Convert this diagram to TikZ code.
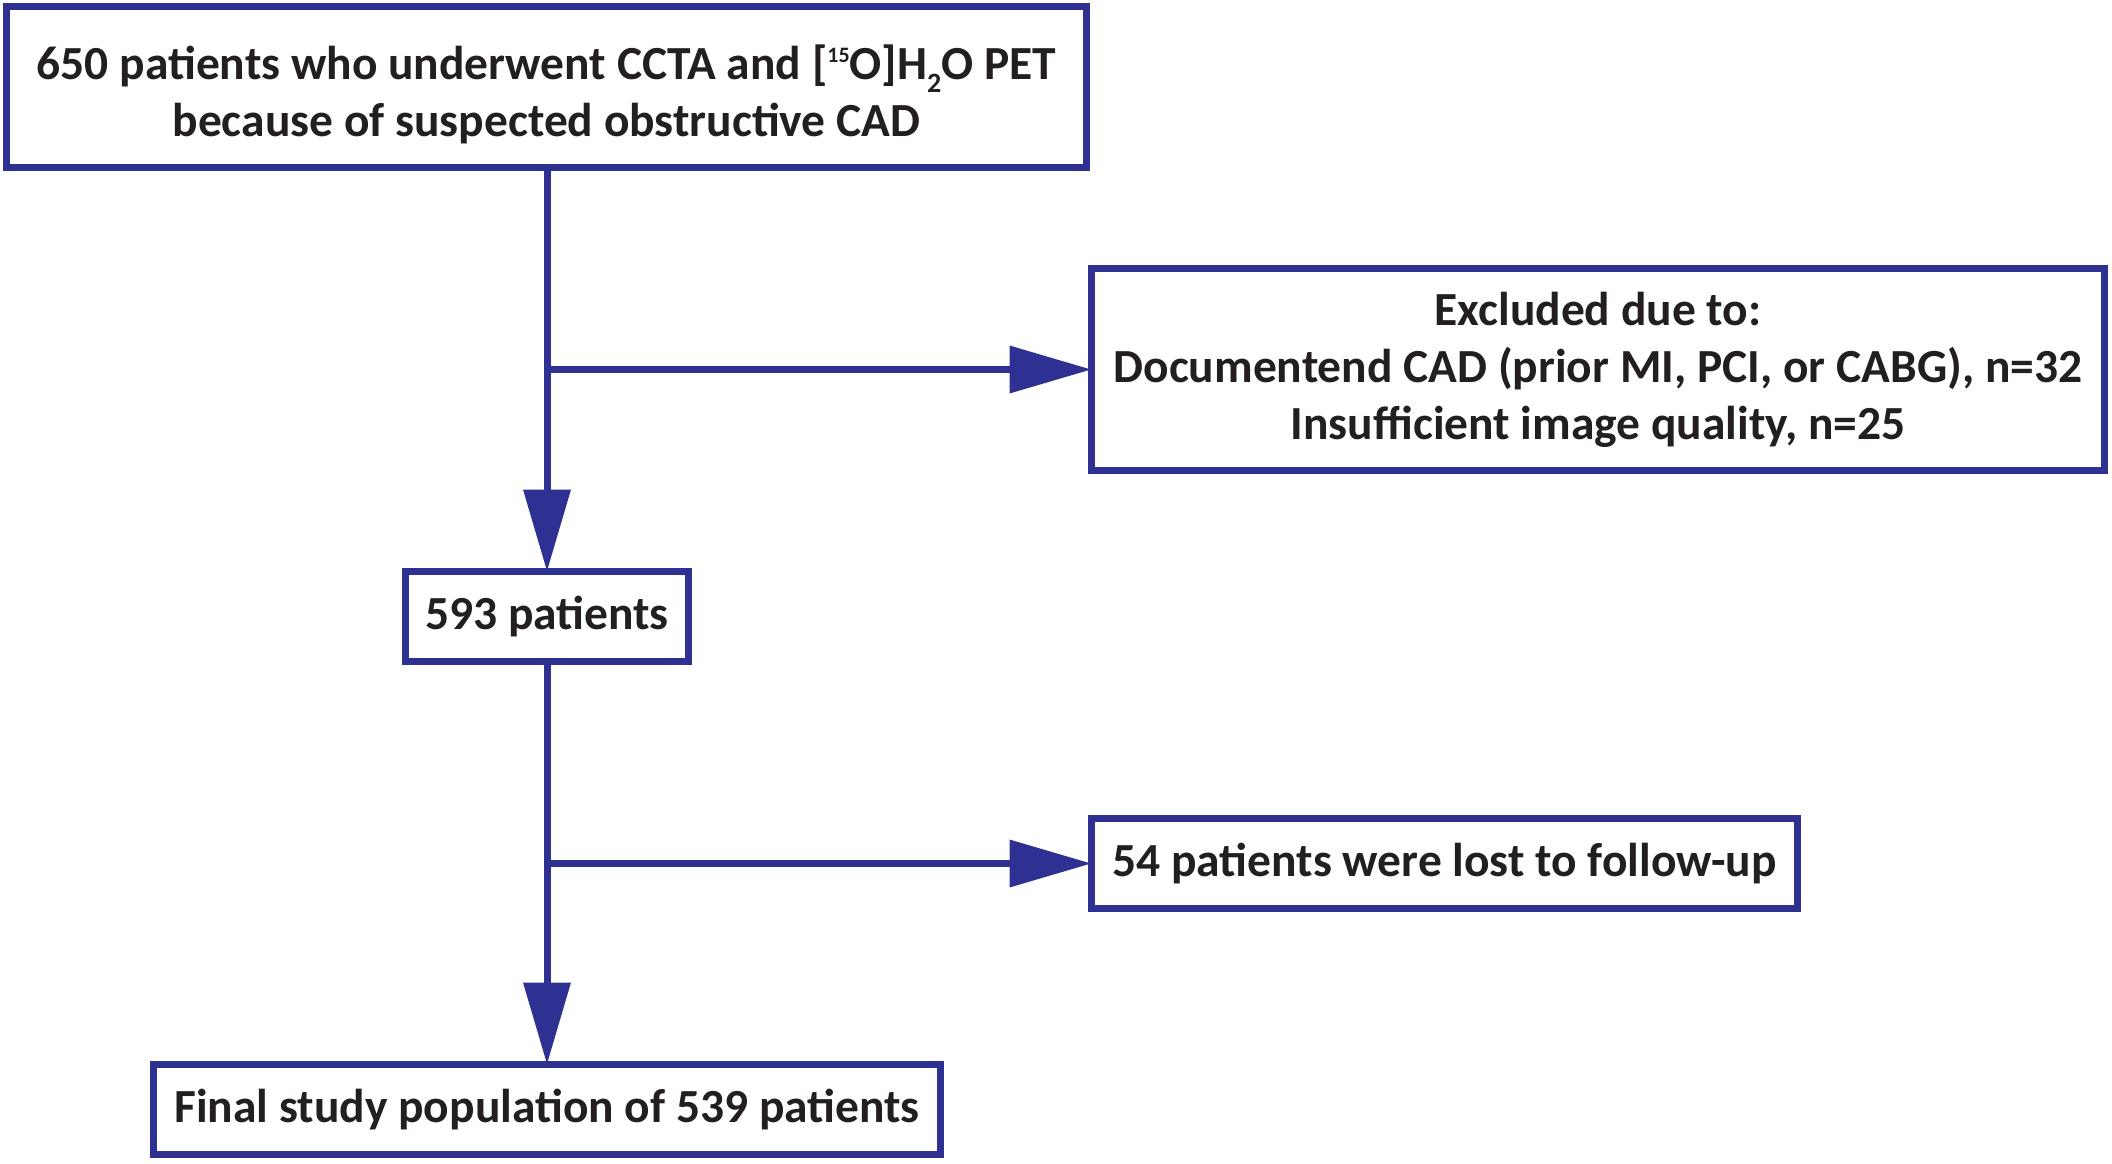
\documentclass[tikz,border=0pt]{standalone}
\usepackage{fontspec}
\setmainfont{Carlito}
\usetikzlibrary{arrows.meta}
\definecolor{flowblue}{HTML}{2E3192}
\definecolor{flowtext}{HTML}{231F20}
\newcommand{\supfifteen}{\raisebox{17pt}{\fontsize{22}{22}\selectfont 15}}
\newcommand{\subtwo}{\raisebox{-13pt}{\fontsize{28}{28}\selectfont 2}}
\begin{document}
\begin{tikzpicture}[x=1pt,y=-1pt,
  box/.style={draw=flowblue, line width=7pt, fill=white, rectangle, inner sep=0pt,
    align=center, text=flowtext, font=\fontsize{47.5}{57}\selectfont\bfseries},
  conn/.style={draw=flowblue, line width=7pt, -{Triangle[length=82pt,width=46pt]}, shorten >=-3.5pt}
]
\useasboundingbox (0,0) rectangle (2112,1163);
\node[box, minimum width=1080pt, minimum height=161pt] (b1) at (546.5,87)
  {\rule{0pt}{50pt}650 patients who underwent CCTA and [\supfifteen O]H\subtwo O PET\\because of suspected obstructive CAD};
\node[box, minimum width=1013pt, minimum height=202pt] (b2) at (1598,369.5)
  {Excluded due to:\\Documentend CAD (prior MI, PCI, or CABG), n=32\\Insufficient image quality, n=25};
\node[box, minimum width=283pt, minimum height=90pt] (b3) at (547,616.5) {593 patients};
\node[box, minimum width=706pt, minimum height=90pt] (b4) at (1444.5,863.5) {54 patients were lost to follow-up};
\node[box, minimum width=787pt, minimum height=90pt] (b5) at (547,1109.5) {Final study population of 539 patients};
\coordinate (j1) at (547,369.5);
\coordinate (j2) at (547,863.5);
\draw[conn] (b1.south -| b3.north) -- (b3.north);
\draw[conn] (j1) -- (b2.west);
\draw[conn] (b3.south) -- (b5.north);
\draw[conn] (j2) -- (b4.west);
\end{tikzpicture}
\end{document}
